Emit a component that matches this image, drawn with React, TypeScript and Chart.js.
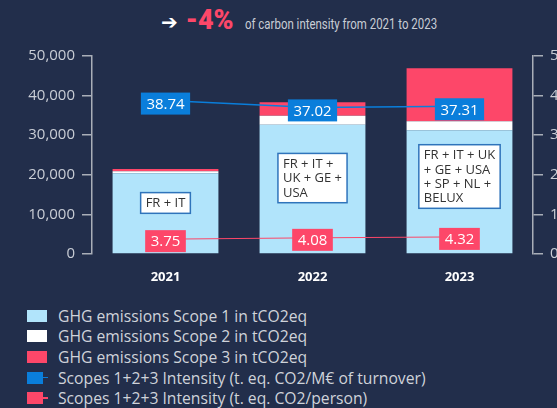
import React, { useEffect, useRef } from "react";
import { Chart, registerables } from "chart.js";

Chart.register(...registerables);

// ---- data ----
const years = ["2021", "2022", "2023"];
const scope1 = [20390, 32620, 31230];
const scope2 = [490, 2280, 2300];
const scope3 = [560, 3430, 13360];
const intensityTurnover = [38.74, 37.02, 37.31];
const intensityPerson = [3.75, 4.08, 4.32];
const perimeters = [
  ["FR + IT"],
  ["FR + IT +", "UK + GE +", "USA"],
  ["FR + IT + UK", "+ GE + USA", "+ SP + NL +", "BELUX"],
];
const seriesNames = [
  "GHG emissions Scope 1 in tCO2eq",
  "GHG emissions Scope 2 in tCO2eq",
  "GHG emissions Scope 3 in tCO2eq",
  "Scopes 1+2+3 Intensity (t. eq. CO2/M€ of turnover)",
  "Scopes 1+2+3 Intensity (t. eq. CO2/person)",
];
const headlineValue = "-4%";
const headlineText = "of carbon intensity from 2021 to 2023";

// ---- styles ----
const BG = "#222e4b";
const LIGHTBLUE = "#b1e4fb";
const WHITE = "#ffffff";
const RED = "#fd4769";
const BLUE = "#0a7edb";
const AXIS = "#a9aeb8";
const TICK = "#c9cdd5";
const FONT = "'Open Sans', 'Noto Sans', sans-serif";
const colors = [LIGHTBLUE, WHITE, RED, BLUE, RED];

const perimeterTop = [15500, 25400, 27600]; // box top, in left-axis units

const valueLabelPlugin = {
  id: "valueLabels",
  afterDatasetsDraw(chart: any) {
    const ctx = chart.ctx;
    const xs = chart.scales.x;
    const ys = chart.scales.y;
    ctx.save();
    // perimeter annotation boxes
    ctx.font = `13px ${FONT}`;
    ctx.textBaseline = "middle";
    ctx.textAlign = "left";
    const lh = 14.3;
    perimeters.forEach((lines, i) => {
      const cx = xs.getPixelForValue(i);
      const top = ys.getPixelForValue(perimeterTop[i]);
      const w = Math.max(...lines.map((l) => ctx.measureText(l).width)) + 10;
      const h = lines.length * lh + 6.4;
      const left = cx - w / 2;
      ctx.fillStyle = "#ffffff";
      ctx.fillRect(left, top, w, h);
      ctx.strokeStyle = "#2f74bb";
      ctx.lineWidth = 1.5;
      ctx.strokeRect(left, top, w, h);
      ctx.fillStyle = "#333333";
      lines.forEach((l, k) => {
        ctx.fillText(l, left + 5, top + 3.2 + lh * k + lh / 2 + 0.5);
      });
    });

    // value labels on the intensity lines
    ctx.font = `15px ${FONT}`;
    ctx.textAlign = "center";
    [0, 1].forEach((di) => {
      const meta = chart.getDatasetMeta(di);
      const ds = chart.data.datasets[di];
      const off = di === 0 ? 3 : 2;
      meta.data.forEach((pt: any, j: number) => {
        const txt = Number(ds.data[j]).toFixed(2);
        const w = ctx.measureText(txt).width + 11;
        const h = 22;
        ctx.fillStyle = ds.borderColor;
        ctx.fillRect(pt.x - w / 2, pt.y + off - h / 2, w, h);
        ctx.fillStyle = "#ffffff";
        ctx.fillText(txt, pt.x, pt.y + off + 1);
      });
    });
    ctx.restore();
  },
};

function ChartCanvas() {
  const ref = useRef<HTMLCanvasElement | null>(null);
  useEffect(() => {
    if (!ref.current) return;
    const axisStyle = {
      grid: {
        drawOnChartArea: false,
        drawTicks: true,
        tickLength: 10,
        color: AXIS,
        lineWidth: 1.5,
      },
      border: { display: true, color: AXIS, width: 1.5 },
    };
    const chart = new Chart(ref.current, {
      type: "bar",
      data: {
        labels: years,
        datasets: [
          {
            type: "line",
            label: seriesNames[3],
            data: intensityTurnover,
            borderColor: BLUE,
            backgroundColor: BLUE,
            borderWidth: 1.5,
            pointRadius: 0,
            yAxisID: "y1",
            order: 0,
          } as any,
          {
            type: "line",
            label: seriesNames[4],
            data: intensityPerson,
            borderColor: RED,
            backgroundColor: RED,
            borderWidth: 1,
            pointRadius: 0,
            yAxisID: "y1",
            order: 0,
          } as any,
          {
            label: seriesNames[0],
            data: scope1,
            backgroundColor: LIGHTBLUE,
            yAxisID: "y",
            order: 1,
          },
          {
            label: seriesNames[1],
            data: scope2,
            backgroundColor: WHITE,
            yAxisID: "y",
            order: 1,
          },
          {
            label: seriesNames[2],
            data: scope3,
            backgroundColor: RED,
            yAxisID: "y",
            order: 1,
          },
        ],
      },
      options: {
        animation: false,
        responsive: false,
        maintainAspectRatio: false,
        layout: { padding: { top: 10, left: 0, right: 0, bottom: 0 } },
        plugins: {
          legend: { display: false },
          tooltip: { enabled: false },
        },
        scales: {
          x: {
            stacked: true,
            grid: { display: false, drawTicks: false },
            border: { display: false },
            ticks: {
              color: "#ffffff",
              font: { family: FONT, size: 13, weight: "bold" },
              padding: 15,
            },
            afterFit: (s: any) => {
              s.height = 36;
            },
          },
          y: {
            position: "left",
            stacked: true,
            min: 0,
            max: 50000,
            ticks: {
              stepSize: 10000,
              color: TICK,
              font: { family: FONT, size: 15 },
              padding: 7,
              callback: (v: any) => Number(v).toLocaleString("en-US"),
            },
            ...axisStyle,
            afterFit: (s: any) => {
              s.width = 92;
            },
          },
          y1: {
            position: "right",
            stacked: false,
            min: 0,
            max: 50,
            ticks: {
              stepSize: 10,
              color: TICK,
              font: { family: FONT, size: 15 },
              padding: 7,
            },
            ...axisStyle,
            afterFit: (s: any) => {
              s.width = 42;
            },
          },
        },
      } as any,
      plugins: [valueLabelPlugin],
    });
    return () => chart.destroy();
  }, []);
  return (
    <canvas
      ref={ref}
      width={575}
      height={250}
      style={{ position: "absolute", left: 0, top: 40, width: 575, height: 250 }}
    />
  );
}

export default function App() {
  useEffect(() => {
    document.body.style.margin = "0";
    document.body.style.background = BG;
  }, []);
  return (
    <div
      style={{
        position: "relative",
        width: 557,
        height: 408,
        overflow: "hidden",
        background: BG,
        fontFamily: FONT,
      }}
    >
      <div
        style={{
          position: "absolute",
          left: 161,
          top: 4,
          height: 34,
          display: "flex",
          alignItems: "baseline",
          whiteSpace: "nowrap",
        }}
      >
        <span
          style={{
            color: "#ffffff",
            fontFamily: "'DejaVu Sans', sans-serif",
            fontWeight: "bold",
            fontSize: 20,
            marginRight: 8,
          }}
        >
          ➔
        </span>
        <span
          style={{
            color: RED,
            fontFamily: "Roboto, 'Open Sans', sans-serif",
            fontWeight: 900,
            fontSize: 27,
            marginRight: 11,
          }}
        >
          {headlineValue}
        </span>
        <span
          style={{
            color: "#c9cdd5",
            fontFamily: "Roboto, sans-serif",
            fontSize: 14.5,
            display: "inline-block",
            transform: "scaleX(0.79)",
            transformOrigin: "left center",
          }}
        >
          {headlineText}
        </span>
      </div>
      <ChartCanvas />
      <div style={{ position: "absolute", left: 27, top: 305.5 }}>
        {seriesNames.map((name, i) => (
          <div
            key={name}
            style={{
              display: "flex",
              alignItems: "center",
              height: 20.6,
              color: "#cfd3da",
              fontSize: 15.7,
              whiteSpace: "nowrap",
            }}
          >
            {i < 3 ? (
              <span
                style={{ display: "inline-block", width: 20, height: 12, background: colors[i], marginRight: 11 }}
              />
            ) : (
              <span style={{ display: "inline-flex", alignItems: "center", width: 21, marginRight: 10 }}>
                <span style={{ display: "inline-block", width: 16, height: 12, background: colors[i] }} />
                <span style={{ display: "inline-block", width: 5, height: 1.5, background: colors[i] }} />
              </span>
            )}
            <span>{name}</span>
          </div>
        ))}
      </div>
    </div>
  );
}
